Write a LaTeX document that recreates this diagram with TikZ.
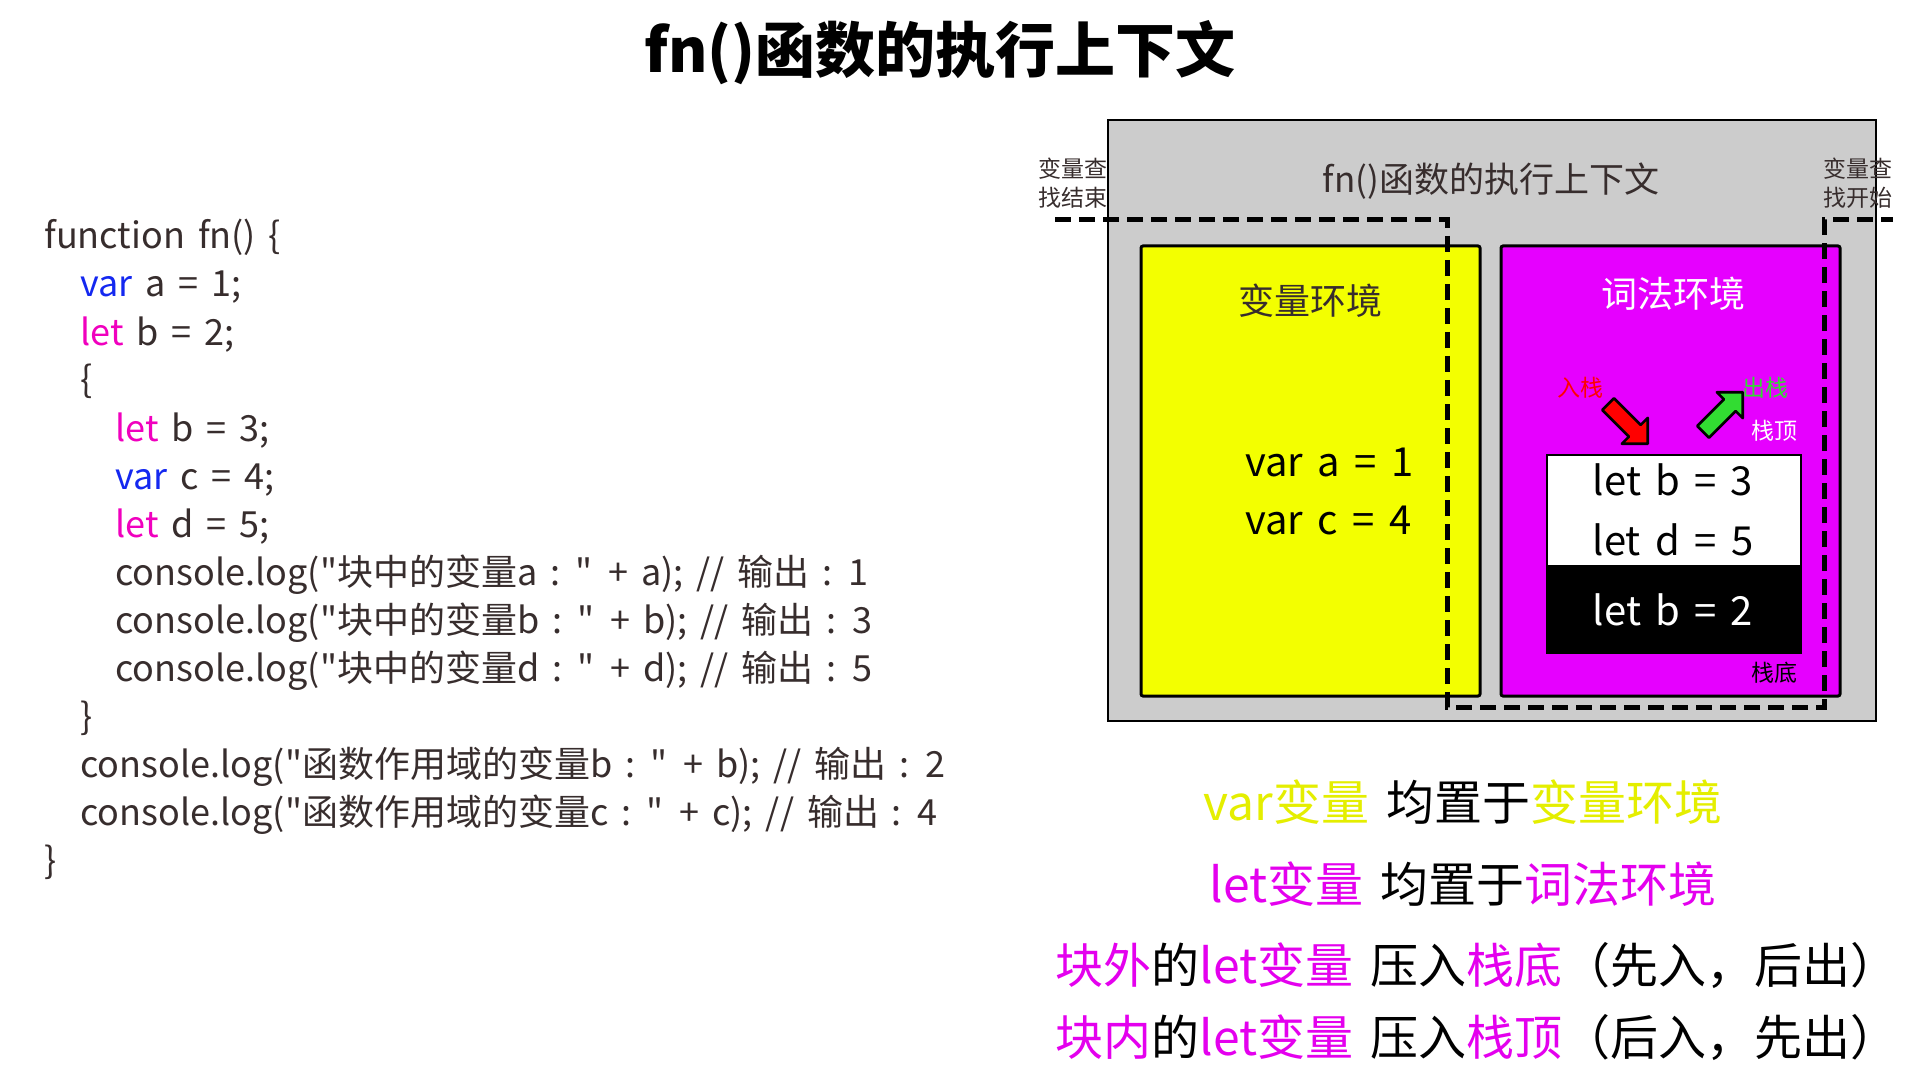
\documentclass[tikz,border=0pt]{standalone}
\usepackage{fontspec}
\setmainfont{Noto Sans CJK SC}[WordSpace=1.6]
\usetikzlibrary{shapes.arrows}

\definecolor{codegray}{RGB}{55,45,45}
\definecolor{kwblue}{RGB}{20,40,240}
\definecolor{kwpink}{RGB}{240,0,190}
\definecolor{envyellow}{RGB}{243,255,0}
\definecolor{envmagenta}{RGB}{230,0,255}
\definecolor{txtyellow}{RGB}{228,238,0}
\definecolor{txtmagenta}{RGB}{228,0,238}
\definecolor{ctxgray}{RGB}{204,204,204}
\definecolor{popgreen}{RGB}{50,220,50}

\newcommand{\fsz}[1]{\fontsize{#1pt}{1.25\dimexpr#1pt\relax}\selectfont}
\newcommand{\kvar}{\textcolor{kwblue}{var}}
\newcommand{\klet}{\textcolor{kwpink}{let}}
\newcommand{\qt}{\textquotedbl}
\newcommand{\ty}[1]{\textcolor{txtyellow}{#1}}
\newcommand{\tm}[1]{\textcolor{txtmagenta}{#1}}

\tikzset{
  codeline/.style={anchor=base west, inner sep=0pt, font=\fsz{18}, text=codegray},
  envbox/.style={draw=black, line width=1.5pt, rounded corners=1pt, minimum width=169.5pt, minimum height=225pt},
  stackbox/.style={draw=black, line width=1.2pt, minimum width=127pt},
  lookup/.style={line width=2.5pt, dash pattern=on 8pt off 4pt},
  blockarrow/.style={single arrow, draw=black, line width=1.3pt, line join=round,
    minimum height=28pt, inner xsep=0pt, inner ysep=3.5pt, single arrow head extend=5pt},
  small/.style={font=\fsz{11.5}, inner sep=0pt},
  bigvar/.style={font=\fsz{20}, inner sep=0pt},
  summary/.style={font=\fsz{24}, inner sep=0pt}
}

\begin{document}
\begin{tikzpicture}[x=0.5pt, y=-0.5pt]
\useasboundingbox (0,0) rectangle (1920,1080);

% Title
\node[font=\fsz{30}\bfseries, text=black] (title) at (940,53) {fn()函数的执行上下文};

% Code on the left
\node[codeline] (c1)  at (44,249)  {function fn() \{};
\node[codeline] (c2)  at (80,297)  {\kvar{} a = 1;};
\node[codeline] (c3)  at (80,345)  {\klet{} b = 2;};
\node[codeline] (c4)  at (80,393)  {\{};
\node[codeline] (c5)  at (115,441) {\klet{} b = 3;};
\node[codeline] (c6)  at (115,489) {\kvar{} c = 4;};
\node[codeline] (c7)  at (115,537) {\klet{} d = 5;};
\node[codeline] (c8)  at (115,585) {console.log(\qt 块中的变量a : \qt{} + a); // 输出 : 1};
\node[codeline] (c9)  at (115,633) {console.log(\qt 块中的变量b : \qt{} + b); // 输出 : 3};
\node[codeline] (c10) at (115,681) {console.log(\qt 块中的变量d : \qt{} + d); // 输出 : 5};
\node[codeline] (c11) at (80,729)  {\}};
\node[codeline] (c12) at (80,777)  {console.log(\qt 函数作用域的变量b : \qt{} + b); // 输出 : 2};
\node[codeline] (c13) at (80,825)  {console.log(\qt 函数作用域的变量c : \qt{} + c); // 输出 : 4};
\node[codeline] (c14) at (44,873)  {\}};

% Execution context
\node[draw=black, line width=1.2pt, fill=ctxgray, minimum width=384pt, minimum height=300.5pt] (ctx) at (1492,420.5) {};
\node[font=\fsz{17.5}, text=codegray] (ctxtitle) at (1491,181) {fn()函数的执行上下文};
\node[small, align=center, text=codegray] (endlbl) at (1073,183) {变量查\\找结束};
\node[small, align=center, text=codegray] (startlbl) at (1858,183) {变量查\\找开始};

% Variable environment
\node[envbox, fill=envyellow] (venv) at (1310.5,471) {};
\node[font=\fsz{18}, text=codegray] (vtitle) at (1310,301) {变量环境};
\node[bigvar, anchor=west] (va) at (1245,462) {var a = 1};
\node[bigvar, anchor=west] (vc) at (1245,520) {var c = 4};

% Lexical environment
\node[envbox, fill=envmagenta] (lenv) at (1670.5,471) {};
\node[font=\fsz{18}, text=white] (ltitle) at (1673,294) {词法环境};
\node[stackbox, fill=white, minimum height=55.5pt] (stktop) at (1674,510.5) {};
\node[stackbox, fill=black, minimum height=43.5pt] (stkbot) at (1674,609.5) {};
\node[bigvar] (lb3) at (1673,480) {let b = 3};
\node[bigvar] (ld5) at (1673,540) {let d = 5};
\node[bigvar, text=white] (lb2) at (1673,610) {let b = 2};

% Push / pop
\node[blockarrow, fill=red, rotate=-45] (push) at (1625,421) {};
\node[blockarrow, fill=popgreen, rotate=45] (pop) at (1720,415) {};
\node[small, text=red] (pushlbl) at (1580,388) {入栈};
\node[small, text=popgreen] (poplbl) at (1765,388) {出栈};
\node[small, text=white] (toplbl) at (1774,431) {栈顶};
\node[small, text=black] (botlbl) at (1774,673) {栈底};

% Lookup path
\draw[lookup] (1055,220) -- (1447,220) -- (1447,707) -- (1824,707) -- (1824,220) -- (1893,220);

% Summary
\node[summary] (sum1) at (1463,802) {\ty{var变量} 均置于\ty{变量环境}};
\node[summary] (sum2) at (1463,884) {\tm{let变量} 均置于\tm{词法环境}};
\node[summary, anchor=west] (sum3) at (1055,966) {\tm{块外}的\tm{let变量} 压入\tm{栈底}（先入，后出）};
\node[summary, anchor=west] (sum4) at (1055,1038) {\tm{块内}的\tm{let变量} 压入\tm{栈顶}（后入，先出）};
\end{tikzpicture}
\end{document}
